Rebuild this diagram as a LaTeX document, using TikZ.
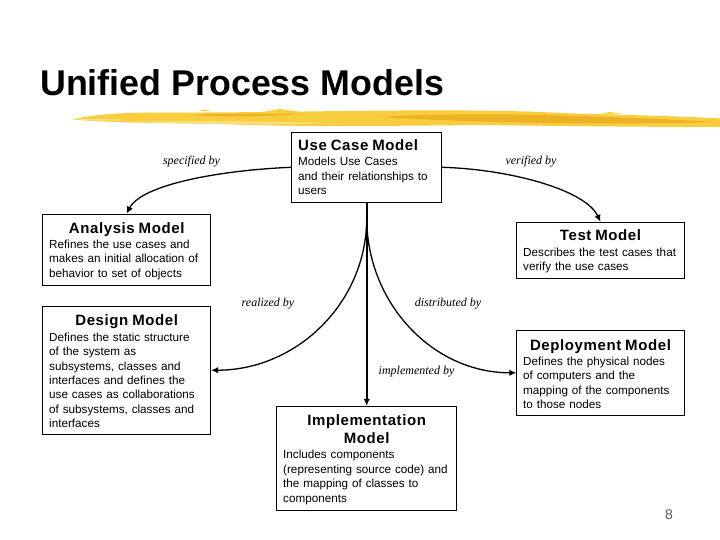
\documentclass[tikz,border=0pt]{standalone}
\usepackage{fontspec}
\setmainfont{Liberation Sans}
\newfontfamily\linkfont{Liberation Serif}
\newfontface\boxtitlefont[LetterSpace=4]{Liberation Sans Bold}
\usetikzlibrary{arrows.meta}
\usetikzlibrary{positioning}
\definecolor{brushyellow}{HTML}{F8CD3E}
\definecolor{brushdark}{HTML}{EDB126}
\definecolor{brushlight}{HTML}{FBDF80}
\tikzstyle{modelbox}=[draw,line width=0.9pt,fill=white,inner xsep=6.5pt,inner ysep=0pt,align=left,font=\fontsize{11.7}{14.4}\selectfont]
\tikzstyle{linklabel}=[inner sep=0pt,font=\linkfont\itshape\fontsize{12}{14}\selectfont]
\tikzstyle{link}=[-{Latex[length=7pt,width=6.5pt]},line width=1.3pt]
\newcommand{\modeltitle}[1]{{\fontsize{15}{18}\boxtitlefont\centering\rule{0pt}{13.5pt}#1\par}\vspace{1pt}}
\begin{document}
\begin{tikzpicture}[x=1pt,y=1pt]
\useasboundingbox (0,0) rectangle (720,540);
% brush stroke
\fill[brushyellow] (73,420.5) .. controls (85,424) and (110,427) .. (150,427.5)
  .. controls (230,427) and (320,429) .. (400,429.5) .. controls (470,430) and (530,429) .. (560,427)
  .. controls (620,425) and (680,424) .. (720,421.5) -- (720,413)
  .. controls (640,413) and (560,414) .. (480,415) .. controls (380,414) and (300,413) .. (220,416)
  .. controls (170,417) and (110,417) .. (73,420.5) -- cycle;
\fill[brushlight] (76,420.5) .. controls (100,422) and (110,421) .. (130,420)
  .. controls (110,419) and (90,419) .. (76,420.5) -- cycle;
\fill[brushlight] (130,418) .. controls (200,420) and (260,418) .. (340,417)
  .. controls (270,415) and (190,416) .. (130,418) -- cycle;
\fill[brushdark] (190,425) .. controls (240,427) and (260,426) .. (300,426)
  .. controls (260,423) and (230,423) .. (190,425) -- cycle;
\fill[brushdark] (380,423) .. controls (480,429) and (600,424) .. (716,418)
  .. controls (600,415) and (480,417) .. (380,423) -- cycle;
\fill[brushyellow] (198,429) -- (204,430.5) -- (212,429) -- cycle;
\fill[brushyellow] (262,428) -- (280,431) -- (300,428) -- cycle;
\fill[brushyellow] (600,426) -- (610,428) -- (622,426) -- cycle;

\node [inner sep=0pt,anchor=base west,font=\fontsize{35.8}{40}\bfseries\selectfont] (title) at (40,444) {Unified Process Models};

\node [modelbox,minimum height=70pt,text width=137pt] (usecase) at (366.7,372.7)
  {{\fontsize{15}{18}\boxtitlefont Use Case Model\par}\vspace{1pt}Models Use Cases\\and their relationships to\\users};
\node [modelbox,minimum height=71.3pt,text width=155pt] (analysis) at (126.7,290.3)
  {\modeltitle{Analysis Model}Refines the use cases and\\makes an initial allocation of\\behavior to set of objects};
\node [modelbox,minimum height=56pt,text width=154.6pt] (test) at (600.5,289.7)
  {\modeltitle{Test Model}Describes the test cases that\\verify the use cases};
\node [modelbox,minimum height=128.3pt,text width=155pt] (design) at (126.7,169.8)
  {\modeltitle{Design Model}Defines the static structure\\of the system as\\subsystems, classes and\\interfaces and defines the\\use cases as collaborations\\of subsystems, classes and\\interfaces};
\node [modelbox,minimum height=104pt,text width=167pt] (impl) at (366.7,81.7)
  {\modeltitle{Implementation\\Model}Includes components\\(representing source code) and\\the mapping of classes to\\components};
\node [modelbox,minimum height=85pt,text width=154.6pt] (deploy) at (600.5,167.2)
  {\modeltitle{Deployment Model}Defines the physical nodes\\of computers and the\\mapping of the components\\to those nodes};

\node [linklabel] (specified) at (191.5,378) {specified by};
\node [linklabel] (verified) at (531,378) {verified by};
\node [linklabel] (realized) at (268,236.5) {realized by};
\node [linklabel] (distributed) at (448,236.5) {distributed by};
\node [linklabel] (implemented) at (416.5,168) {implemented by};

\coordinate (fork) at (366.7,322);
\draw [link] (usecase.west) .. controls +(-72,-3) and +(15,29) .. (analysis.north);
\draw [link] (usecase.east) .. controls +(68,-2) and +(-15,32) .. (test.north);
\draw [link] (fork) to[out=270,in=0] (design.east);
\draw [link] (fork) to[out=270,in=180] (deploy.west);
\draw [link,line width=1.8pt] (usecase.south) -- (impl.north);

\node [inner sep=0pt,text=black!65,font=\fontsize{14}{16}\selectfont] (pagenum) at (669,25) {8};
\end{tikzpicture}
\end{document}
